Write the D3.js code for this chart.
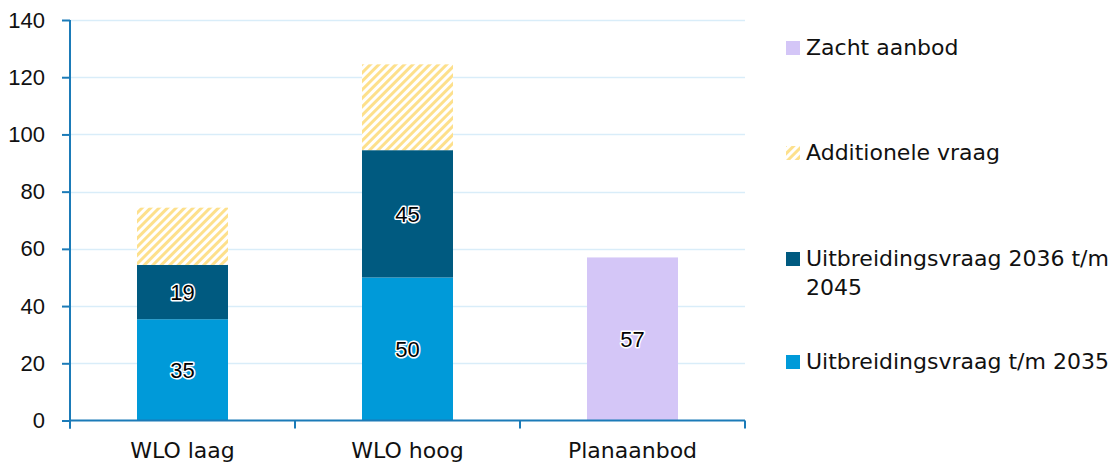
<!DOCTYPE html>
<html>
<head>
<meta charset="utf-8">
<script src="https://cdn.jsdelivr.net/npm/d3@7"></script>
<style>
	body { margin: 0; background: #fff; }
</style>
</head>
<body>
<div id="chart"></div>
<script>
'use strict'

// categories and series
var categories = ['WLO laag', 'WLO hoog', 'Planaanbod'];
var tmBasis = [35.4, 50, 0];           // Uitbreidingsvraag t/m 2035
var tm2045 = [19, 44.5, 0];            // Uitbreidingsvraag 2036 t/m 2045
var additioneel = [20, 30, 0];         // Additionele vraag
var zacht = [0, 0, 57];                // Zacht aanbod
var yTicks = [0, 20, 40, 60, 80, 100, 120, 140];

var legendItems = [
	{ key: 'zacht', label: ['Zacht aanbod'] },
	{ key: 'add', label: ['Additionele vraag'] },
	{ key: 'u2045', label: ['Uitbreidingsvraag 2036 t/m', '2045'] },
	{ key: 'u2035', label: ['Uitbreidingsvraag t/m 2035'] }
];

var NUM_FONT = '"Liberation Sans", Arial, sans-serif';
var TEXT_FONT = '"DejaVu Sans", sans-serif';

var app = {
	colors: {
		u2035: '#009ad9',
		u2045: '#005a80',
		add: 'url(#hatch)',
		zacht: '#d4c6f7'
	},

	init: function(dimensions, padding) {
		this.dimensions = dimensions;
		this.padding = padding;

		var svg = d3.select('#chart')
			.append('svg')
			.attr('width', dimensions.width)
			.attr('height', dimensions.height);

		var pattern = svg.append('defs').append('pattern')
			.attr('id', 'hatch')
			.attr('patternUnits', 'userSpaceOnUse')
			.attr('width', 6)
			.attr('height', 6)
			.attr('patternTransform', 'rotate(45)');
		pattern.append('rect')
			.attr('width', 6).attr('height', 6).attr('fill', '#fff');
		pattern.append('rect')
			.attr('width', 3).attr('height', 6).attr('fill', '#fde08c');

		app.svg = svg;
		app.draw();
		app.drawLegend();
	},

	draw: function() {
		var svg = app.svg;
		var p = app.padding;
		var plotRight = app.dimensions.width - p.right;
		var plotBottom = app.dimensions.height - p.bottom - 0.5;

		var x = d3.scaleBand()
			.domain(categories)
			.range([p.left, plotRight])
			.paddingInner(0)
			.paddingOuter(0);

		var y = d3.scaleLinear()
			.domain([0, 140])
			.range([plotBottom, p.top]);

		// grid lines
		svg.append('g')
			.selectAll('line')
			.data(yTicks.slice(1))
			.enter().append('line')
			.attr('x1', p.left)
			.attr('x2', plotRight)
			.attr('y1', function(d) { return Math.round(y(d)) + 0.5; })
			.attr('y2', function(d) { return Math.round(y(d)) + 0.5; })
			.attr('stroke', '#d9edf9')
			.attr('stroke-width', 1.5);

		// stacked bars
		var rows = categories.map(function(c, i) {
			return { cat: c, u2035: tmBasis[i], u2045: tm2045[i], add: additioneel[i], zacht: zacht[i] };
		});
		var stack = d3.stack().keys(['u2035', 'u2045', 'add', 'zacht']);
		var series = stack(rows);
		var barW = 91;

		var layers = svg.append('g')
			.selectAll('g')
			.data(series)
			.enter().append('g')
			.attr('fill', function(s) { return app.colors[s.key]; });

		layers.selectAll('rect')
			.data(function(s) { return s.filter(function(d) { return d[1] > d[0]; }); })
			.enter().append('rect')
			.attr('x', function(d) { return x(d.data.cat) + x.bandwidth() / 2 - barW / 2; })
			.attr('width', barW)
			.attr('y', function(d) { return y(d[1]); })
			.attr('height', function(d) { return y(d[0]) - y(d[1]); });

		// value labels (not for the hatched part)
		var labelled = series.filter(function(s) { return s.key !== 'add'; });
		var labels = [];
		labelled.forEach(function(s) {
			s.forEach(function(d) {
				if (d[1] > d[0]) labels.push(d);
			});
		});

		svg.append('g')
			.selectAll('text')
			.data(labels)
			.enter().append('text')
			.attr('x', function(d) { return x(d.data.cat) + x.bandwidth() / 2; })
			.attr('y', function(d) { return y((d[0] + d[1]) / 2); })
			.attr('dy', '0.36em')
			.attr('text-anchor', 'middle')
			.style('font-family', NUM_FONT)
			.style('font-size', '22px')
			.attr('fill', '#000')
			.attr('stroke', '#fff')
			.attr('stroke-width', 3)
			.attr('paint-order', 'stroke')
			.attr('stroke-linejoin', 'round')
			.text(function(d) { return Math.round(d[1] - d[0]); });

		// axes
		var axisColor = '#1b7bb8';

		var yAxis = svg.append('g')
			.attr('transform', 'translate(' + p.left + ', 0)')
			.call(d3.axisLeft(y).tickValues(yTicks).tickSize(8).tickPadding(17));

		var xAxis = svg.append('g')
			.attr('transform', 'translate(0, ' + plotBottom + ')')
			.call(d3.axisBottom(x).tickSize(0).tickPadding(22));

		xAxis.selectAll('.xtick')
			.data(d3.range(categories.length + 1))
			.enter().append('line')
			.attr('class', 'xtick')
			.attr('x1', function(i) { return p.left + i * x.bandwidth(); })
			.attr('x2', function(i) { return p.left + i * x.bandwidth(); })
			.attr('y1', 0)
			.attr('y2', 8);

		[yAxis, xAxis].forEach(function(g) {
			g.selectAll('.domain').attr('stroke', axisColor).attr('stroke-width', 2);
			g.selectAll('line').attr('stroke', axisColor).attr('stroke-width', 2);
			g.selectAll('text').attr('fill', '#111');
		});
		yAxis.selectAll('text')
			.style('font-size', '22px')
			.style('font-family', NUM_FONT);
		xAxis.selectAll('text')
			.style('font-size', '22px')
			.style('font-family', TEXT_FONT);
		yAxis.select('.domain').attr('d', 'M0,' + p.top + 'V' + (plotBottom + 8));
		xAxis.select('.domain').attr('d', 'M' + p.left + ',0H' + plotRight);
	},

	drawLegend: function() {
		var svg = app.svg;
		var baselines = [55, 160, 266, 369];
		var lx = 786;

		var items = svg.append('g')
			.selectAll('g')
			.data(legendItems)
			.enter().append('g')
			.attr('transform', function(d, i) { return 'translate(' + lx + ',' + baselines[i] + ')'; });

		items.append('rect')
			.attr('x', 0)
			.attr('y', -14)
			.attr('width', 14)
			.attr('height', 14)
			.attr('fill', function(d) { return app.colors[d.key]; });

		items.append('text')
			.attr('x', 20)
			.style('font-family', TEXT_FONT)
			.style('font-size', '22px')
			.attr('fill', '#111')
			.selectAll('tspan')
			.data(function(d) { return d.label; })
			.enter().append('tspan')
			.attr('x', 20)
			.attr('dy', function(d, i) { return i === 0 ? 0 : 29; })
			.text(function(d) { return d; });
	}
};

(function() {
	var dimensions = { width: 1117, height: 469 };
	var padding = { top: 20, right: 372, bottom: 48, left: 70 };

	app.init(dimensions, padding);
})();
</script>
</body>
</html>
